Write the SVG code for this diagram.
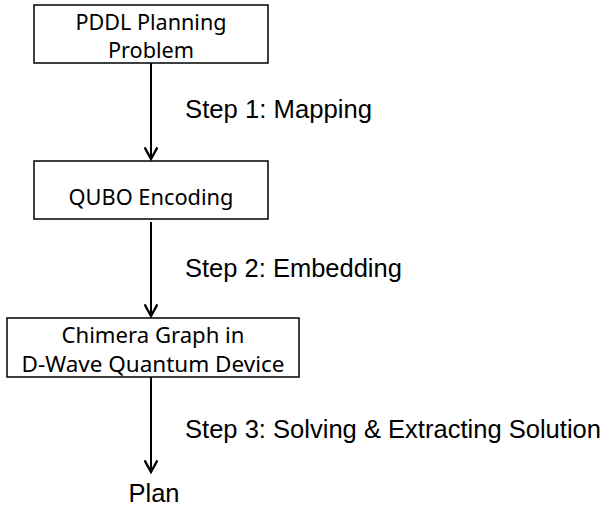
<svg xmlns="http://www.w3.org/2000/svg" width="607" height="511" viewBox="0 0 607 511">
<style>
.box{fill:#fff;stroke:#000;stroke-width:1.5}
.bt{font-family:"Noto Sans","Open Sans",sans-serif;font-size:21px;fill:#000;text-anchor:middle}
.lt{font-family:"Liberation Sans",Arial,sans-serif;font-size:25.5px;fill:#000}
.ln{stroke:#000;stroke-width:2;fill:none}
</style>
<defs>
<marker id="ah" markerWidth="14" markerHeight="14" refX="10.5" refY="6" orient="auto" markerUnits="userSpaceOnUse" viewBox="0 0 12 12">
<path d="M0.5,0.5 L10.5,6 L0.5,11.5" fill="none" stroke="#000" stroke-width="2"/>
</marker>
</defs>
<rect width="607" height="511" fill="#fff"/>
<g id="connectors">
<line class="ln" x1="151" y1="63" x2="151" y2="159" marker-end="url(#ah)"/>
<line class="ln" x1="151" y1="222" x2="151" y2="316" marker-end="url(#ah)"/>
<line class="ln" x1="151" y1="377" x2="151" y2="472" marker-end="url(#ah)"/>
<text class="lt" x="185" y="118" textLength="187" lengthAdjust="spacingAndGlyphs">Step 1: Mapping</text>
<text class="lt" x="185" y="277">Step 2: Embedding</text>
<text class="lt" x="185" y="438" textLength="416" lengthAdjust="spacingAndGlyphs">Step 3: Solving &amp; Extracting Solution</text>
</g>
<g id="pddl">
<rect class="box" x="34" y="5" width="234" height="58"/>
<text class="bt" x="151" y="30" textLength="151" lengthAdjust="spacingAndGlyphs">PDDL Planning</text>
<text class="bt" x="151" y="58" textLength="86" lengthAdjust="spacingAndGlyphs">Problem</text>
</g>
<g id="qubo">
<rect class="box" x="34" y="161" width="234" height="58"/>
<text class="bt" x="151" y="205" textLength="165" lengthAdjust="spacingAndGlyphs">QUBO Encoding</text>
</g>
<g id="chimera">
<rect class="box" x="7" y="318" width="292" height="59"/>
<text class="bt" x="153" y="343" textLength="183" lengthAdjust="spacingAndGlyphs">Chimera Graph in</text>
<text class="bt" x="153" y="372" textLength="263" lengthAdjust="spacingAndGlyphs">D-Wave Quantum Device</text>
</g>
<g id="plan">
<text class="lt" x="154" y="502" text-anchor="middle">Plan</text>
</g>
</svg>
